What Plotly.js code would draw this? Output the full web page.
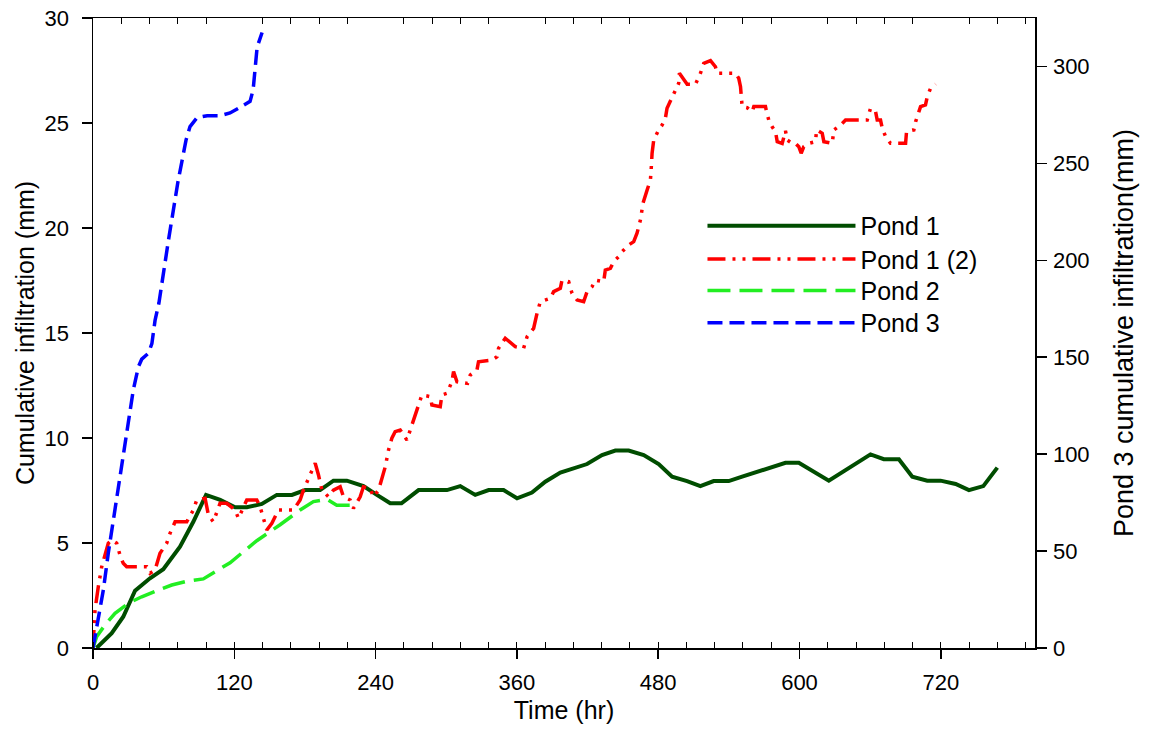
<!DOCTYPE html>
<html>
<head>
<meta charset="utf-8">
<script src="https://cdn.plot.ly/plotly-3.0.1.min.js"></script>
<style>html,body{margin:0;padding:0;background:#fff;}#chart{width:1154px;height:734px;}</style>
</head>
<body>
<div id="chart"></div>
<script>
// Pond 1 (left axis, mm)
const pond1Time = [3,15.9,25.7,35.7,48.4,59.7,73.9,85.2,96,108,120.7,130.6,143.4,156.1,168.9,180.2,192.9,204.2,215.6,229.7,241.1,252.4,262,276.5,300.6,311.9,324.6,336,348.7,360.1,372.8,384.1,396.9,408.2,419.6,432.3,443.6,454.9,467.7,480.4,491.8,504.5,515.8,527.1,539.9,551.3,564,576,588.1,599.4,624.9,660.3,671.6,684.4,695.8,708.5,719.8,732.6,743.9,756.1,768];
const pond1Infil = [0,0.71,1.49,2.73,3.32,3.75,4.82,6.01,7.29,7.05,6.7,6.7,6.86,7.29,7.29,7.52,7.52,7.97,7.97,7.71,7.29,6.89,6.89,7.52,7.52,7.71,7.29,7.52,7.52,7.13,7.4,7.92,8.35,8.56,8.76,9.19,9.4,9.4,9.19,8.76,8.16,7.95,7.71,7.95,7.95,8.16,8.4,8.6,8.82,8.82,7.97,9.22,8.99,8.99,8.16,7.97,7.97,7.81,7.52,7.71,8.59];

// Pond 1 (2) (left axis, mm)
const pond1bTime = [0,1.7,4.5,7.4,10.2,13,15.9,20.1,22.9,25.7,28.6,45.6,48.4,52.7,56.9,62.6,65.4,69.7,79.6,85.2,88.1,95.2,98,102.2,107.9,113.6,120.7,123.5,130.6,139.1,141.9,146.2,147.6,151.9,157.5,170.2,175.9,178.7,184.4,188.7,191.5,194.4,200,204.2,209.9,212.7,218.4,221.2,226.9,229.7,235.4,238.2,242.5,245.3,248.2,251,253.8,256.6,260.9,266.6,269.4,273.6,276.5,279.3,286.4,287.8,294.9,296.3,300.6,304.8,306.2,309.1,318.1,320.4,326.1,327.4,338.8,343.1,344.4,350.1,358.6,365.7,368.6,374.2,377.1,379.9,388.4,391.2,396.9,398.3,404,406.8,411.1,416.7,419.6,423.8,426.6,433.7,435.1,439.4,442.2,446.4,449.3,454.9,459.2,462,464.9,467.1,470.6,473.4,474,474.8,476.2,480.4,483.3,486.1,487.5,491.8,494.6,497.4,498,504.6,511.6,515.9,518.7,524.4,528.6,530,545.6,548.4,549.9,550.7,551.3,555.5,559.8,561.2,571.1,572,573.9,576.8,579.6,581.1,585.3,588.1,589.5,593.8,596.6,599.4,601.4,603.6,607.9,613.6,614.5,619.3,620.7,627.8,629.2,634.9,639.1,657.5,660.3,664.6,666,668.8,670.3,673.1,677.3,690.1,690.9,697.1,698.6,701.4,702.8,707,708.5,711.3,715.5];
const pond1bInfil = [0,1.81,2.92,3.87,4.43,4.99,5.14,4.99,4.43,4.03,3.87,3.87,3.56,3.71,4.51,4.99,5.46,6.01,6.01,6.57,7.05,7.13,6.33,6.01,6.89,6.89,6.57,6.18,7.05,7.05,6.73,5.94,5.62,5.94,6.57,6.57,7.05,7.52,8.24,8.8,8.24,7.52,7.2,7.52,7.68,7.2,7.05,6.65,7.2,7.68,7.6,7.2,7.52,8.0,8.63,9.43,9.99,10.3,10.38,9.9,10.38,11.01,11.49,12.05,11.97,11.57,11.49,12.05,12.13,12.68,13.16,12.68,12.6,13.0,13.24,13.63,13.71,13.87,14.27,14.75,14.35,14.27,14.82,15.22,15.94,16.49,16.65,16.97,17.13,17.52,17.44,16.89,16.57,16.49,16.97,17.2,17.52,17.44,18.0,18.08,18.4,18.63,18.87,19.19,19.35,19.75,20.38,21.18,21.81,22.29,22.76,23.56,24.19,24.67,24.9,25.22,25.7,26.25,26.57,26.89,27.37,26.84,26.84,27.37,27.84,27.97,27.68,27.37,27.37,27.13,26.73,26.25,25.78,25.73,25.54,25.78,25.78,25.54,25.14,24.82,24.59,24.11,24.03,24.63,24.19,24.03,24.03,23.87,23.56,23.87,24.03,24.11,24.67,24.51,24.11,24.03,24.67,24.9,25.14,25.14,25.7,25.54,25.14,25.14,24.75,24.35,24.03,24.03,24.59,24.67,25.06,25.54,25.78,25.86,26.25,26.65,26.86];

// Pond 2 (left axis, mm)
const pond2Time = [0,3.1,10.2,18.7,30,41.4,55.5,66.9,78.2,93.7,116.4,139.1,158.9,175.9,187.2,198.6,207,218];
const pond2Infil = [0,0.54,1.1,1.65,2.13,2.44,2.76,3.0,3.16,3.29,4.06,5.11,5.87,6.57,6.97,7.08,6.8,6.8];

// Pond 3 (right axis, mm)
const pond3Time = [0,4.5,8.8,13,17.3,21.5,25.7,30,34.2,38.5,41.4,47,50,52.7,56,64,72,79,82.4,88.4,97,108,116.4,125,133.4,136,137.7,139.4,143.6];
const pond3Infil = [0,14.5,30,49,66,85,102,118,133,145,149,152,157,169,178,210,240,262,269,273.6,274.6,274.6,276,279,282,288,300,310,317.5];

const seriesNames = ['Pond 1','Pond 1 (2)','Pond 2','Pond 3'];
const xTitle = 'Time (hr)';
const yTitle = 'Cumulative infiltration (mm)';
const y2Title = 'Pond 3 cumulative infiltration(mm)';

const FONT = 'Liberation Sans, Arial, sans-serif';
const TICK = 22, TITLE = 25, TITLE2 = 27, LEG = 25;

const traces = [
  {x: pond1Time, y: pond1Infil, name: seriesNames[0], type: 'scatter', mode: 'lines', legend: 'legend',
   line: {color: '#004d00', width: 4}},
  {x: pond1bTime, y: pond1bInfil, name: seriesNames[1], type: 'scatter', mode: 'lines', legend: 'legend2',
   line: {color: '#ff0000', width: 3.5, dash: '18px,7px,3px,7px,3px,7px'}},
  {x: pond2Time, y: pond2Infil, name: seriesNames[2], type: 'scatter', mode: 'lines', legend: 'legend3',
   line: {color: '#22ee22', width: 3.5, dash: '23px,9px'}},
  {x: pond3Time, y: pond3Infil, name: seriesNames[3], type: 'scatter', mode: 'lines', yaxis: 'y2', legend: 'legend4',
   line: {color: '#0000ff', width: 3.5, dash: '15px,7px'}},
  {x: [], y: [], xaxis: 'x2', yaxis: 'y', showlegend: false, hoverinfo: 'skip', type: 'scatter', mode: 'lines'}
];

function leg(yPaper) {
  return {x: 0.6470, y: yPaper, xanchor: 'left', yanchor: 'middle', bgcolor: 'rgba(0,0,0,0)',
          font: {family: FONT, size: LEG, color: '#000'}, itemwidth: 148, borderwidth: 0};
}

const layout = {
  width: 1154, height: 734,
  margin: {l: 93, r: 119, t: 18, b: 86},
  paper_bgcolor: '#ffffff', plot_bgcolor: '#ffffff',
  font: {family: FONT, size: TICK, color: '#000'},
  showlegend: true,
  legend: leg(0.670),
  legend2: leg(0.617),
  legend3: leg(0.567),
  legend4: leg(0.516),
  xaxis: {range: [0, 800], dtick: 120, tick0: 0, showgrid: false, zeroline: false,
          showline: true, linecolor: '#000', linewidth: 1.5,
          ticks: 'outside', ticklen: 9, tickwidth: 1.5, tickcolor: '#000', ticklabelstandoff: 5,
          minor: {dtick: 24, ticks: 'inside', ticklen: 6, tickwidth: 1, tickcolor: '#000', showgrid: false},
          tickfont: {family: FONT, size: TICK},
          title: {text: xTitle, font: {family: FONT, size: TITLE}, standoff: 7}},
  xaxis2: {range: [0, 800], overlaying: 'x', anchor: 'y', side: 'top', dtick: 120, tick0: 0,
           showgrid: false, zeroline: false, showticklabels: false, ticks: '',
           showline: true, linecolor: '#000', linewidth: 1.5,
           minor: {dtick: 24, ticks: 'inside', ticklen: 6, tickwidth: 1, tickcolor: '#000', showgrid: false}},
  yaxis: {range: [0, 30], dtick: 5, showgrid: false, zeroline: false,
          showline: true, linecolor: '#000', linewidth: 1.5,
          ticks: 'outside', ticklen: 10, tickwidth: 1.5, tickcolor: '#000', ticklabelstandoff: 8,
          tickfont: {family: FONT, size: TICK},
          title: {text: yTitle, font: {family: FONT, size: TITLE}, standoff: 3}},
  yaxis2: {range: [0, 325], dtick: 50, overlaying: 'y', side: 'right', anchor: 'x',
           showgrid: false, zeroline: false,
           showline: true, linecolor: '#000', linewidth: 1.5,
           ticks: 'outside', ticklen: 10, tickwidth: 1.5, tickcolor: '#000', ticklabelstandoff: 2,
           tickfont: {family: FONT, size: TICK},
           title: {text: y2Title, font: {family: FONT, size: TITLE2}, standoff: 25}}
};

Plotly.newPlot('chart', traces, layout, {displayModeBar: false, staticPlot: true});
</script>
</body>
</html>
